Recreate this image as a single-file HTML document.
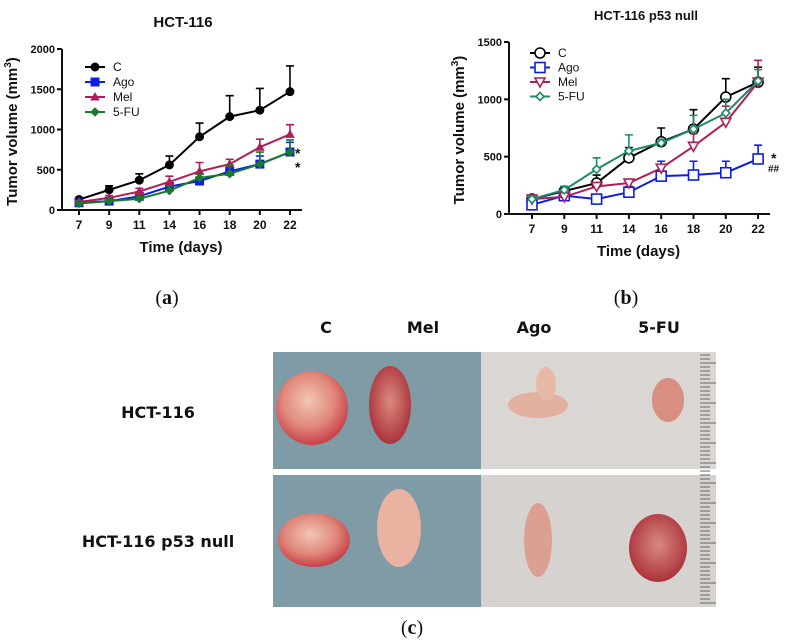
<!DOCTYPE html>
<html><head><meta charset="utf-8"><style>
body{margin:0;background:#fff;width:789px;height:644px;overflow:hidden;font-family:"Liberation Sans",Arial,sans-serif}
svg{position:absolute;left:0;top:0}
</style></head><body>
<svg id="s" width="789" height="644">
<defs>
<radialGradient id="tum" cx="45%" cy="40%" r="60%"><stop offset="0" stop-color="#f2c6b4"/><stop offset="0.6" stop-color="#e0877a"/><stop offset="1" stop-color="#c8404a"/></radialGradient>
<radialGradient id="tumd" cx="50%" cy="45%" r="60%"><stop offset="0" stop-color="#d98a80"/><stop offset="1" stop-color="#a82a35"/></radialGradient>
</defs>
<g>
<rect x="273" y="352" width="208" height="117" fill="#7f9ba6"/>
<rect x="481" y="352" width="235" height="117" fill="#d9d6d3"/>
<rect x="273" y="475" width="208" height="132" fill="#7f9ba6"/>
<rect x="481" y="475" width="235" height="132" fill="#d6d2cf"/>
<ellipse cx="312" cy="408" rx="36" ry="37" fill="url(#tum)"/>
<ellipse cx="390" cy="405" rx="21" ry="39" fill="url(#tumd)"/>
<ellipse cx="538" cy="405" rx="30" ry="13" fill="#e3b09f"/>
<ellipse cx="546" cy="384" rx="10" ry="17" fill="#e8b8a6"/>
<ellipse cx="668" cy="400" rx="16" ry="22" fill="#d88e80"/>
<ellipse cx="314" cy="540" rx="36" ry="27" fill="url(#tum)"/>
<ellipse cx="399" cy="528" rx="22" ry="39" fill="#eab2a0"/>
<ellipse cx="538" cy="540" rx="14" ry="37" fill="#dca092"/>
<ellipse cx="658" cy="548" rx="29" ry="34" fill="url(#tumd)"/>
<g stroke="#666" stroke-width="1" id="ruler"></g>
</g>
<g font-weight="bold" font-size="16" text-anchor="middle" fill="#111" font-family="'DejaVu Sans',sans-serif">
<text x="326" y="333">C</text>
<text x="423" y="333">Mel</text>
<text x="534" y="333">Ago</text>
<text x="659" y="333">5-FU</text>
<text x="158" y="418">HCT-116</text>
<text x="158" y="547">HCT-116 p53 null</text>
</g>
<g font-family="'Liberation Serif',serif" font-size="20" text-anchor="middle" fill="#111">
<text x="167" y="304">(<tspan font-weight="bold">a</tspan>)</text>
<text x="626" y="304">(<tspan font-weight="bold">b</tspan>)</text>
<text x="412" y="634">(<tspan font-weight="bold">c</tspan>)</text>
</g>
<g id="ca"></g><g id="cb"></g>
</svg>
<script>
const days=["7","9","11","14","16","18","20","22"];
const aC=[130,250,370,560,910,1160,1240,1470];
const aCerr=[20,50,80,110,170,260,270,320];
const aAgo=[90,110,170,290,360,480,570,720];
const aAgoErr=[15,20,30,50,40,60,100,120];
const aMel=[100,150,230,350,480,570,780,940];
const aMelErr=[15,30,40,70,110,60,100,120];
const aFU=[80,110,140,240,400,450,570,720];
const aFUErr=[15,20,30,60,50,110,150,150];
const bC=[130,200,270,490,630,740,1020,1150];
const bCerr=[20,40,70,90,120,170,160,130];
const bAgo=[80,160,130,190,330,340,360,480];
const bAgoErr=[10,30,20,50,130,120,100,120];
const bMel=[130,150,240,270,400,590,800,1150];
const bMelErr=[20,90,20,20,20,110,140,190];
const bFU=[130,210,390,550,620,740,880,1160];
const bFUErr=[20,30,100,140,30,120,120,100];
const aTicks=[0,500,1000,1500,2000];
const bTicks=[0,500,1000,1500];
const NS="http://www.w3.org/2000/svg";
function mk(p,t,a){const e=document.createElementNS(NS,t);for(const k in a)e.setAttribute(k,a[k]);p.appendChild(e);return e;}
const ruler=document.getElementById('ruler');
for(let y=355;y<605;y+=4){const l=mk(ruler,'line',{x1:700,x2:(y%20<4?716:710),y1:y,y2:y});

}
function chart(g,o){
 const X=i=>o.x0+i*o.dx, Y=v=>o.y0-v*(o.y0-o.yTop)/o.ymax;
 const ax=mk(g,'path',{d:`M${o.ax} ${o.yTop}V${o.y0}H${X(7)+12}`,stroke:'#111','stroke-width':2,fill:'none'});
 
 
 o.ticks.forEach(v=>{mk(g,'line',{x1:o.ax-5,x2:o.ax,y1:Y(v),y2:Y(v),stroke:'#111','stroke-width':2});
  const t=mk(g,'text',{x:o.ax-7,y:Y(v)+4,'text-anchor':'end','font-size':11,'font-weight':'bold'});t.textContent=v;
  
  });
 days.forEach((d,i)=>{mk(g,'line',{x1:X(i),x2:X(i),y1:o.y0,y2:o.y0+5,stroke:'#111','stroke-width':2});
  const t=mk(g,'text',{x:X(i),y:o.y0+19,'text-anchor':'middle','font-size':12,'font-weight':'bold'});t.textContent=d;
  
  });
 let t=mk(g,'text',{x:(o.ax+X(7))/2+5,y:o.y0+42,'text-anchor':'middle','font-size':15,'font-weight':'bold'});t.textContent='Time (days)';
 
 
 t=mk(g,'text',{x:0,y:0,'text-anchor':'middle','font-size':15,'font-weight':'bold',transform:`translate(${o.ax-45},${(o.y0+o.yTop)/2+2}) rotate(-90)`});
 t.innerHTML='Tumor volume (mm<tspan dy="-6" font-size="10">3</tspan><tspan dy="6">)</tspan>';
 
 
 t=mk(g,'text',{x:o.titleX,y:o.titleY,'text-anchor':'middle','font-size':o.tfs,'font-weight':'bold'});t.textContent=o.title;
 
 
 o.series.forEach((s,k)=>{
  const sg=mk(g,'g',{});
  
  
  s.v.forEach((v,i)=>{mk(sg,'path',{d:`M${X(i)} ${Y(v)}V${Y(v+s.e[i])}M${X(i)-4} ${Y(v+s.e[i])}h8`,stroke:s.c,'stroke-width':1.6,fill:'none'});});
  mk(sg,'polyline',{points:s.v.map((v,i)=>X(i)+','+Y(v)).join(' '),stroke:s.c,'stroke-width':2,fill:'none'});
  s.v.forEach((v,i)=>marker(sg,s,X(i),Y(v),o.open));
  const ly=o.legY+k*o.legDy;
  mk(g,'line',{x1:o.legX,x2:o.legX+20,y1:ly,y2:ly,stroke:s.c,'stroke-width':2});
  marker(g,s,o.legX+10,ly,o.open);
  const lt=mk(g,'text',{x:o.legX+28,y:ly+4,'font-size':12});lt.textContent=s.name;
  
  
 });
 o.notes.forEach(n=>{const e=mk(g,'text',{x:n.x,y:n.y,'font-size':n.fs||14,'font-weight':'bold'});e.textContent=n.t;
  
  });
}
function marker(p,s,x,y,open){
 const f=open?'#fff':s.c, st={stroke:s.c,'stroke-width':open?1.6:1,fill:f};
 let m;
 if(s.m==='o')m=mk(p,'circle',Object.assign({cx:x,cy:y,r:open?5:4},st));
 else if(s.m==='s')m=mk(p,'rect',Object.assign({x:x-(open?5:4),y:y-(open?5:4),width:open?10:8,height:open?10:8},st));
 else if(s.m==='t')m=mk(p,'path',Object.assign({d:`M${x} ${y-4}L${x+4} ${y+3}L${x-4} ${y+3}Z`},st));
 else if(s.m==='v')m=mk(p,'path',Object.assign({d:`M${x-5} ${y-4}L${x+5} ${y-4}L${x} ${y+5}Z`},st));
 else m=mk(p,'path',Object.assign({d:`M${x} ${y-4}L${x+4} ${y}L${x} ${y+4}L${x-4} ${y}Z`},st));
 
 
}
chart(document.getElementById('ca'),{x0:79,dx:30.14,y0:210,yTop:49,ymax:2000,ax:62,ticks:aTicks,title:'HCT-116',titleX:183,titleY:27,tfs:15,open:false,
 legX:85,legY:67,legDy:15,
 series:[{name:'C',v:aC,e:aCerr,c:'#000',m:'o'},{name:'Ago',v:aAgo,e:aAgoErr,c:'#0a1ee6',m:'s'},{name:'Mel',v:aMel,e:aMelErr,c:'#b01e5a',m:'t'},{name:'5-FU',v:aFU,e:aFUErr,c:'#1a7a2a',m:'d'}],
 notes:[{t:'*',x:295,y:158},{t:'*',x:295,y:172}]});
chart(document.getElementById('cb'),{x0:532,dx:32.3,y0:214,yTop:42,ymax:1500,ax:509,ticks:bTicks,title:'HCT-116 p53 null',titleX:646,titleY:20,tfs:13,open:true,
 legX:530,legY:53,legDy:14.5,
 series:[{name:'C',v:bC,e:bCerr,c:'#000',m:'o'},{name:'Ago',v:bAgo,e:bAgoErr,c:'#0a1ee6',m:'s'},{name:'Mel',v:bMel,e:bMelErr,c:'#b01e5a',m:'v'},{name:'5-FU',v:bFU,e:bFUErr,c:'#1a8a6a',m:'d'}],
 notes:[{t:'*',x:771,y:163},{t:'##',x:768,y:172,fs:10}]});
document.querySelectorAll('#ca text,#cb text').forEach(t=>t.setAttribute('fill','#111'));
</script>
</body></html>
